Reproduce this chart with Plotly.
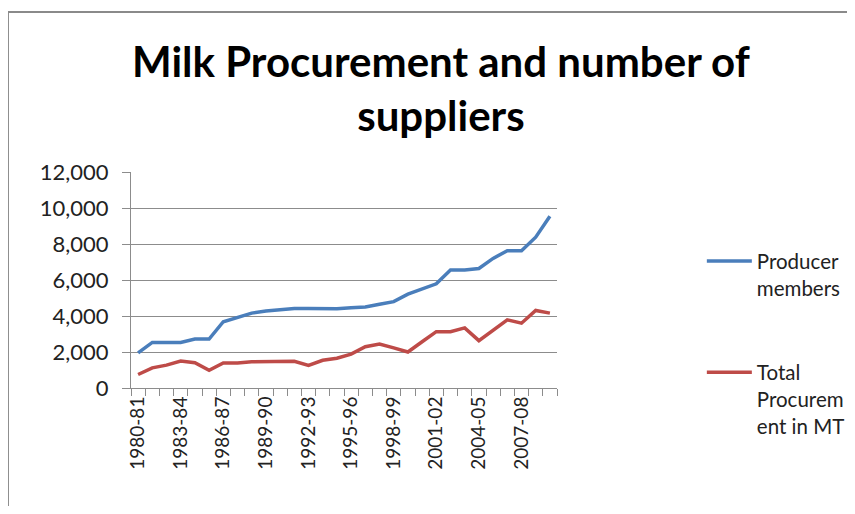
import plotly.graph_objects as go

# ---------------------------------------------------------------------------
# Data
# ---------------------------------------------------------------------------
years = [f"{y}-{str(y + 1)[-2:]}" for y in range(1980, 2010)]

producer_members = [
    1950, 2530, 2530, 2530, 2720, 2720, 3680, 3920, 4160, 4280,
    4350, 4420, 4420, 4420, 4400, 4460, 4500, 4650, 4800, 5210,
    5480, 5790, 6560, 6560, 6640, 7200, 7630, 7630, 8380, 9540,
]
total_procurement = [
    750, 1120, 1270, 1500, 1400, 980, 1390, 1390, 1460, 1480,
    1480, 1480, 1260, 1540, 1650, 1880, 2290, 2440, 2230, 2000,
    2570, 3130, 3130, 3340, 2630, 3230, 3790, 3600, 4310, 4160,
]

y_ticks = [0, 2000, 4000, 6000, 8000, 10000, 12000]
x_ticktext = [y if i % 3 == 0 else "" for i, y in enumerate(years)]

FONT = "Lato, 'Open Sans', sans-serif"
GRID = "#8c8c8c"
FRAME = "#8a8a8a"

fig = go.Figure()
fig.add_trace(go.Scatter(
    x=years, y=producer_members, mode="lines",
    name="Producer<br>members", legendgroup="a",
    line=dict(color="#4A7EBB", width=3.5),
))
fig.add_trace(go.Scatter(
    x=years, y=total_procurement, mode="lines",
    name="Total<br>Procurem<br>ent in MT", legendgroup="b",
    line=dict(color="#BE4B48", width=3.5),
))

# page body keeps an 8px margin -> figure sized so the page fits 855x514
fig.update_layout(
    width=839, height=498,
    paper_bgcolor="white", plot_bgcolor="white",
    margin=dict(l=123, r=290, t=164, b=118, autoexpand=False),
    font=dict(family=FONT, size=20, color="#222"),
    title=dict(
        text="<b>Milk Procurement and number of<br>suppliers</b>",
        x=0.516, xanchor="center", y=0.862, yanchor="top",
        font=dict(family=FONT, size=42, color="black"),
    ),
    showlegend=True,
    legend=dict(
        x=1.34, xanchor="left", y=0.68, yanchor="top",
        valign="top", tracegroupgap=55, itemwidth=45,
        maxheight=400,
        font=dict(family=FONT, size=20.5, color="#222"),
        bgcolor="rgba(0,0,0,0)",
    ),
    xaxis=dict(
        type="category", tickmode="array",
        tickvals=years, ticktext=x_ticktext,
        tickangle=-90, tickson="boundaries",
        ticks="outside", ticklen=7, tickcolor=GRID,
        showline=True, linecolor=GRID, linewidth=1,
        showgrid=False, range=[-0.5, len(years) - 0.5],
        tickfont=dict(size=19),
    ),
    yaxis=dict(
        range=[0, 12000], tickvals=y_ticks, tickformat=",",
        ticks="outside", ticklen=8, tickcolor=GRID,
        ticklabelstandoff=9,
        showline=True, linecolor=GRID, linewidth=1,
        showgrid=True, gridcolor=GRID, gridwidth=1,
        zeroline=False, tickfont=dict(size=22),
    ),
    shapes=[
        dict(type="line", xref="paper", yref="paper",
             x0=-0.29, x1=1.8, y0=1.741, y1=1.741,
             line=dict(color=FRAME, width=2)),
        dict(type="line", xref="paper", yref="paper",
             x0=-0.29, x1=-0.29, y0=1.741, y1=-0.6,
             line=dict(color=FRAME, width=3)),
    ],
)

fig.write_html("out.html")
